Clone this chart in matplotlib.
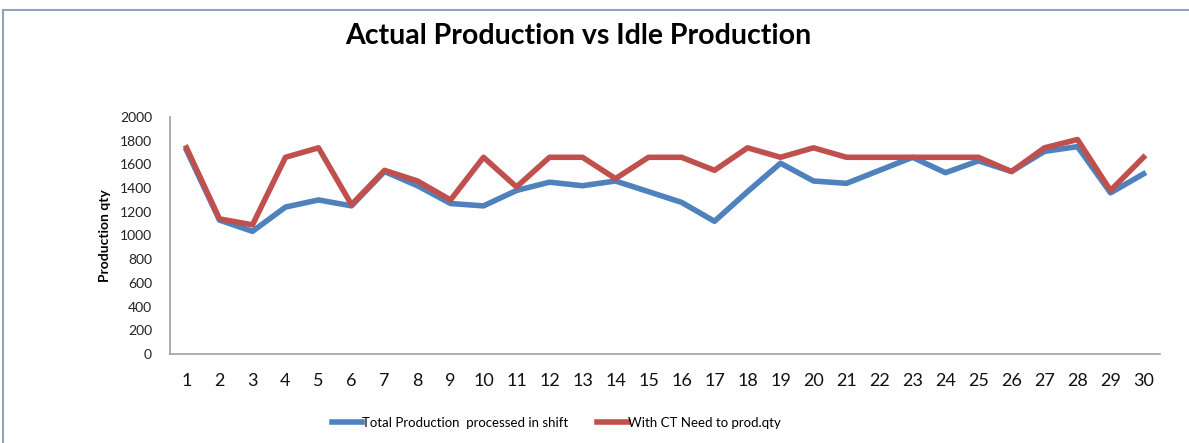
import matplotlib.pyplot as plt
import numpy as np
from matplotlib.patches import Rectangle

plt.rcParams['font.family'] = ['Lato', 'DejaVu Sans']

days = list(range(1, 31))
total_prod = [1720, 1130, 1035, 1240, 1300, 1250, 1540, 1420, 1270, 1250,
              1380, 1450, 1420, 1460, 1370, 1280, 1120, 1370, 1610, 1460,
              1440, 1550, 1660, 1530, 1630, 1540, 1710, 1750, 1360, 1520]
with_ct = [1740, 1140, 1090, 1660, 1740, 1260, 1550, 1460, 1300, 1660,
           1410, 1660, 1660, 1480, 1660, 1660, 1550, 1740, 1660, 1740,
           1660, 1660, 1660, 1660, 1660, 1540, 1740, 1810, 1380, 1660]
labels = ["Total Production  processed in shift", "With CT Need to prod.qty"]

fig = plt.figure(figsize=(11.89, 4.43), dpi=100)
# outer chart frame (only top and left edges visible)
fig.patches.append(Rectangle((3/1189, -0.1), 1.2, (443 - 10)/443 + 0.1,
                             transform=fig.transFigure, fill=False,
                             edgecolor="#8EA4BE", linewidth=1.5))

ax = fig.add_axes([170/1189, 89/443, 990/1189, 237/443])
ax.plot(days, total_prod, color="#4F81BD", linewidth=4, label=labels[0])
ax.plot(days, with_ct, color="#C0504D", linewidth=4, label=labels[1])

ax.set_xlim(0.5, 30.5)
ax.set_ylim(0, 2000)
ax.set_yticks(np.arange(0, 2001, 200))
ax.set_xticks(days)
ax.tick_params(axis="y", length=0, labelsize=10, pad=13, labelcolor="#222222")
ax.tick_params(axis="x", length=0, labelsize=13, pad=14, labelcolor="#111111")
for s in ["top", "right"]:
    ax.spines[s].set_visible(False)
for s in ["left", "bottom"]:
    ax.spines[s].set_color("#A0A0A0")
    ax.spines[s].set_linewidth(1.2)
ax.set_ylabel("Production qty", fontsize=10, fontweight="bold", labelpad=6)

fig.text(578/1189, 1 - 36/443, "Actual Production vs Idle Production",
         ha="center", va="center", fontsize=20.5, fontweight="bold")

ax.legend(loc="center", bbox_to_anchor=(556/1189, 1 - 423/443),
          bbox_transform=fig.transFigure, ncol=2, frameon=False,
          fontsize=9.5, handlelength=2.3, handletextpad=0.0, columnspacing=2.2)

fig.savefig("out.png", dpi=100)
